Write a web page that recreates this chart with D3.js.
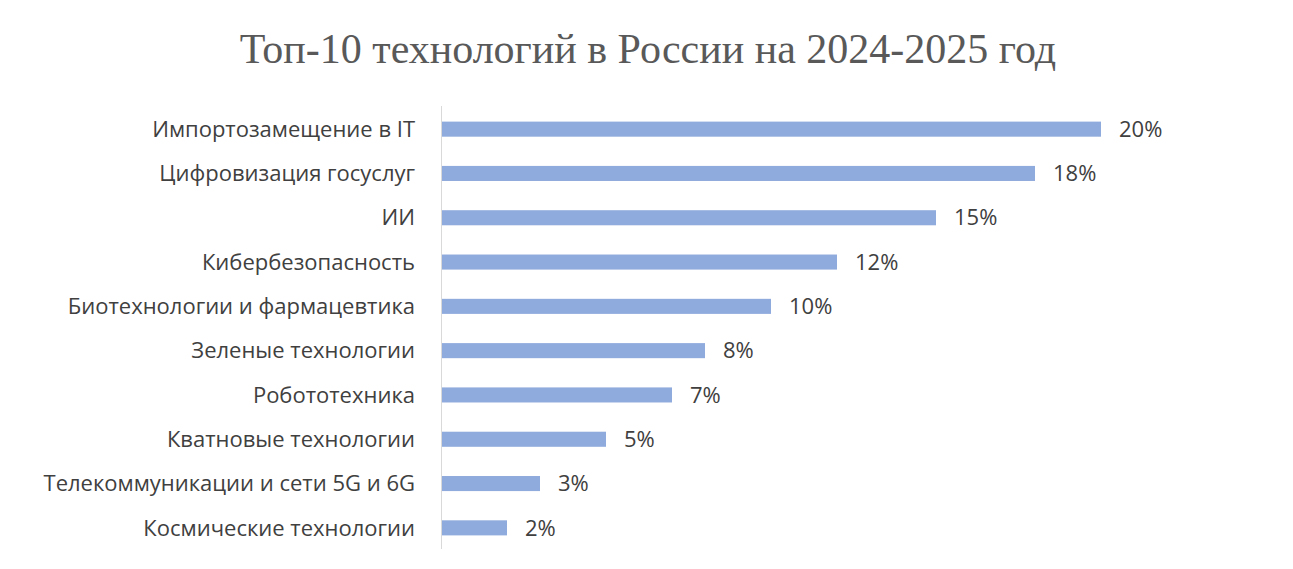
<!DOCTYPE html>
<html>
  <head>
    <script src="https://cdn.jsdelivr.net/npm/d3@7"></script>
    <style>
      body {margin: 0; background: #fff;}
    </style>
  </head>
  <body>
    <svg id="chart" width="1293" height="569"></svg>
    <script>
    var categories = ["Импортозамещение в IT", "Цифровизация госуслуг", "ИИ", "Кибербезопасность",
      "Биотехнологии и фармацевтика", "Зеленые технологии", "Робототехника",
      "Кватновые технологии", "Телекоммуникации и сети 5G и 6G", "Космические технологии"];
    var values = [20, 18, 15, 12, 10, 8, 7, 5, 3, 2];

    var svg = d3.select("#chart");
    var x = d3.scaleLinear().domain([0, 20]).range([441, 1101]);
    var y = d3.scaleBand().domain(categories).range([107, 550]).paddingInner(0.66).paddingOuter(0.33);

    svg.append("text")
      .attr("x", 648).attr("y", 63)
      .attr("text-anchor", "middle")
      .attr("font-family", "Liberation Serif, Times New Roman, serif")
      .attr("font-size", 42).attr("fill", "#595959")
      .text("Топ-10 технологий в России на 2024-2025 год");

    svg.selectAll("rect.bar").data(values).enter().append("rect")
      .attr("class", "bar")
      .attr("x", x(0))
      .attr("y", function(d, i) { return y(categories[i]); })
      .attr("width", function(d) { return x(d) - x(0); })
      .attr("height", y.bandwidth())
      .attr("fill", "#8faadc");

    svg.append("line")
      .attr("x1", 441.5).attr("x2", 441.5).attr("y1", 106).attr("y2", 549)
      .attr("stroke", "#d9d9d9").attr("stroke-width", 1);

    svg.selectAll("text.cat").data(categories).enter().append("text")
      .attr("class", "cat")
      .attr("x", 415)
      .attr("y", function(d) { return y(d) + y.bandwidth() / 2; })
      .attr("dy", "0.35em")
      .attr("text-anchor", "end")
      .attr("font-family", "Open Sans, sans-serif")
      .attr("font-size", 22).attr("fill", "#404040")
      .text(function(d) { return d; });

    svg.selectAll("text.val").data(values).enter().append("text")
      .attr("class", "val")
      .attr("x", function(d) { return x(d) + 18; })
      .attr("y", function(d, i) { return y(categories[i]) + y.bandwidth() / 2; })
      .attr("dy", "0.35em")
      .attr("font-family", "Open Sans, sans-serif")
      .attr("font-size", 22).attr("fill", "#404040")
      .text(function(d) { return d + "%"; });
    </script>
  </body>
</html>
